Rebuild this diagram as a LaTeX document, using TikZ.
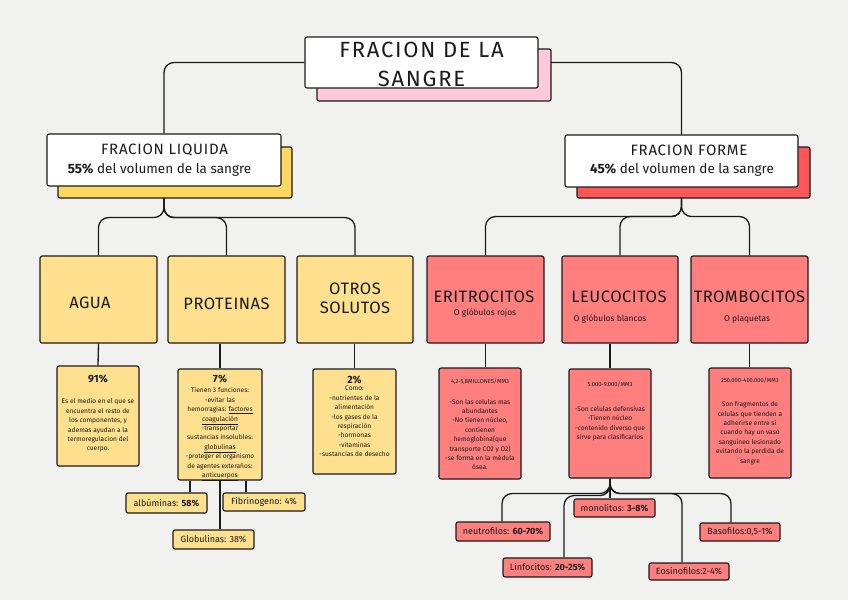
\documentclass[tikz,border=0pt]{standalone}
\usepackage{fontspec}
\setmainfont{Fira Sans}
\usetikzlibrary{calc}
\definecolor{bgc}{HTML}{F1F1EF}
\definecolor{ink}{HTML}{1A1A1A}
\definecolor{yl}{HTML}{FFE08E}
\definecolor{ysh}{HTML}{FFD75E}
\definecolor{rd}{HTML}{FF7E7E}
\definecolor{rsh}{HTML}{FF5656}
\definecolor{pk}{HTML}{FFC9DC}
\pgfdeclarelayer{bg}
\pgfsetlayers{bg,main}
\begin{document}
\begin{tikzpicture}[x=1pt,y=-1pt,
  box/.style={draw=ink, line width=1.1pt, rounded corners=2pt, inner sep=0pt},
  conn/.style={draw=ink, line width=1.3pt, rounded corners=10pt},
  big/.style={font=\fontsize{22}{29}\selectfont\addfontfeature{LetterSpace=8}, align=center, inner sep=0pt, text=ink},
  hd/.style={font=\fontsize{15}{17}\selectfont\addfontfeature{LetterSpace=5}, inner sep=0pt, text=ink},
  hs/.style={font=\fontsize{13.5}{15}\selectfont, inner sep=0pt, text=ink},
  ttl/.style={font=\fontsize{16.5}{19}\selectfont\addfontfeature{LetterSpace=3}, align=center, inner sep=0pt, text=ink},
  sub/.style={font=\fontsize{8.4}{9}\selectfont, inner sep=0pt, text=ink},
  dt/.style={font=\fontsize{6.6}{9.4}\selectfont, align=center, inner sep=0pt, text=ink},
  pc/.style={font=\fontsize{10.5}{12}\selectfont\bfseries, inner sep=0pt, text=ink},
  mm/.style={font=\fontsize{5.8}{6}\selectfont, inner sep=0pt, text=ink},
  sm/.style={box, font=\fontsize{9}{10}\selectfont, text=ink}]
\begin{pgfonlayer}{bg}
\fill[bgc] (0,0) rectangle (848,600);
\end{pgfonlayer}
\useasboundingbox (0,0) rectangle (848,600);

% title
\node[box, fill=pk, minimum width=234pt, minimum height=52pt] (tshad) at (434,75) {};
\node[box, fill=white, minimum width=233pt, minimum height=51pt] (title) at (421.5,62.5) {};
\node[big] (titlet) at (421.5,64.5) {FRACION DE LA\\SANGRE};

% headers
\node[box, fill=ysh, minimum width=234pt, minimum height=51pt] (lshad) at (175,172.5) {};
\node[box, fill=white, minimum width=234pt, minimum height=52pt] (lhead) at (164,160) {};
\node[hd] (lheadt) at (164.5,150) {FRACION LIQUIDA};
\node[hs] (lheads) at (159.5,169.5) {\textbf{55\%} del volumen de la sangre};

\node[box, fill=rsh, minimum width=233pt, minimum height=51pt] (rshad) at (693.5,172.5) {};
\node[box, fill=white, minimum width=233pt, minimum height=52pt] (rhead) at (681.5,161) {};
\node[hd] (rheadt) at (689,150) {FRACION FORME};
\node[hs] (rheads) at (682,169.5) {\textbf{45\%} del volumen de la sangre};

% level 2
\node[box, fill=yl, minimum width=117pt, minimum height=87pt] (agua) at (98.5,299.5) {};
\node[ttl] (aguat) at (90,303) {AGUA};
\node[box, fill=yl, minimum width=117pt, minimum height=87pt] (prot) at (226.5,299.5) {};
\node[ttl] (prott) at (226.5,304) {PROTEINAS};
\node[box, fill=yl, minimum width=116pt, minimum height=87pt] (otros) at (355,299.5) {};
\node[ttl] (otrost) at (355,298) {OTROS\\SOLUTOS};

\node[box, fill=rd, minimum width=117pt, minimum height=87pt] (erit) at (485.5,299.5) {};
\node[ttl] (eritt) at (484,297) {ERITROCITOS};
\node[sub] (erits) at (485,313) {O glóbulos rojos};
\node[box, fill=rd, minimum width=116pt, minimum height=87pt] (leuc) at (620,299.5) {};
\node[ttl] (leuct) at (619,297) {LEUCOCITOS};
\node[sub] (leucs) at (610,319) {O glóbulos blancos};
\node[box, fill=rd, minimum width=117pt, minimum height=87pt] (tromb) at (749.5,299.5) {};
\node[ttl] (trombt) at (749.5,297) {TROMBOCITOS};
\node[sub] (trombs) at (747,319) {O plaquetas};

% level 3
\node[box, fill=yl, minimum width=82pt, minimum height=100pt] (aguad) at (98,416) {};
\node[pc] (aguap) at (98,379) {91\%};
\node[dt, anchor=north] (aguax) at (98,398.5) {Es el medio en el que se\\encuentra el resto de\\los componentes, y\\ademas ayudan a la\\termoregulacion del\\cuerpo.};

\node[box, fill=yl, minimum width=84pt, minimum height=111pt] (protd) at (220,424.5) {};
\node[pc] (protp) at (220,378.5) {7\%};
\node[dt, anchor=north] (protx) at (220,387.5) {Tienen 3 funciones:\\-evitar las\\hemorragias: \underline{factores}\\\underline{coagulación}\\-transportar\\sustancias insolubles:\\\underline{globulinas}\\-proteger el organismo\\de agentes exteraños:\\\underline{anticuerpos}};

\node[box, fill=yl, minimum width=83pt, minimum height=105pt] (otrosd) at (354.5,421.5) {};
\node[pc] (otrosp) at (354.5,380) {2\%};
\node[dt, anchor=north] (otrosx) at (354.5,386) {Como:\\-nutrientes de la\\alimentación\\-los gases de la\\respiración\\-hormonas\\-vitaminas\\-sustancias de desecho};

\node[box, fill=rd, minimum width=82pt, minimum height=111pt] (eritd) at (480,423.5) {};
\node[mm] (eritp) at (480,382) {4,2-5,8MILLONES/MM3};
\node[dt, anchor=north] (eritx) at (480,399) {-Son las celulas mas\\abundantes\\-No tienen núcleo,\\contienen\\hemoglobina(que\\transporte CO2 y O2)\\-se forma en la médula\\ósea.};

\node[box, fill=rd, minimum width=82pt, minimum height=109pt] (leucd) at (610,423.5) {};
\node[mm] (leucp) at (610,384) {5.000-9.000/MM3};
\node[dt, anchor=north] (leucx) at (610,406) {-Son celulas defensivas\\-Tienen núcleo\\-contenido diverso que\\sirve para clasificarlos};

\node[box, fill=rd, minimum width=82pt, minimum height=110pt] (trombd) at (750,423) {};
\node[mm] (trombp) at (750,380.5) {250.000-400.000/MM3};
\node[dt, anchor=north] (trombx) at (750,401.5) {Son fragmentos de\\celulas que tienden a\\adherirse entre si\\cuando hay un vaso\\sanguíneo lesionado\\evitando la perdida de\\sangre};

% small boxes
\node[sm, fill=yl, minimum width=81pt, minimum height=20pt] (alb) at (166.5,503) {albúminas: \textbf{58\%}};
\node[sm, fill=yl, minimum width=82pt, minimum height=18pt] (fib) at (264,502) {Fibrinogeno: 4\%};
\node[sm, fill=yl, minimum width=81pt, minimum height=19pt] (glob) at (213.5,539.5) {Globulinas: 38\%};
\node[sm, fill=rd, minimum width=94pt, minimum height=19pt] (neut) at (503,531.5) {neutrofilos: \textbf{60-70\%}};
\node[sm, fill=rd, minimum width=89pt, minimum height=19pt] (linf) at (547.5,567.5) {Linfocitos: \textbf{20-25\%}};
\node[sm, fill=rd, minimum width=81pt, minimum height=18pt] (mono) at (614.5,508) {monolitos: \textbf{3-8\%}};
\node[sm, fill=rd, minimum width=80pt, minimum height=17pt] (eosi) at (689,571.5) {Eosinofilos:2-4\%};
\node[sm, fill=rd, minimum width=80pt, minimum height=18pt] (baso) at (740,532) {Basofilos:0,5-1\%};

% connectors
\begin{pgfonlayer}{bg}
\draw[conn] (title.west) -| (lhead.north);
\draw[conn] (title.east) -| (rhead.north);
\draw[conn] (lhead.south) -- ++(0,31) -| (agua.north);
\draw[conn] (lhead.south) -- ++(0,31) -| (prot.north);
\draw[conn] (lhead.south) -- ++(0,31) -| (otros.north);
\draw[conn] (rhead.south) -- ++(0,29) -| (erit.north);
\draw[conn] (rhead.south) -- ++(0,29) -| (leuc.north);
\draw[conn] (rhead.south) -- ++(0,29) -| (tromb.north);
\draw[conn] (agua.south) -- (aguad.north);
\draw[conn] (protd.north |- prot.south) -- (protd.north);
\draw[conn] (otros.south -| otrosd.north) -- (otrosd.north);
\draw[conn] (erit.south) -- (erit.south |- eritd.north);
\draw[conn] (leucd.north |- leuc.south) -- (leucd.north);
\draw[conn] (tromb.south) -- (tromb.south |- trombd.north);
\draw[conn] (190,0 |- protd.south) -- (190,0 |- alb.north);
\draw[conn] (protd.south) -- (protd.south |- glob.north);
\draw[conn] (246,0 |- protd.south) -- (246,0 |- fib.north);
\draw[conn] (leucd.south) -- ++(0,15) -| (502,0 |- neut.north);
\draw[conn] (leucd.south) -- ++(0,17) -| (564,0 |- linf.north);
\draw[conn] (leucd.south) -- (leucd.south |- mono.north);
\draw[conn] (leucd.south) -- ++(0,15) -| (682,0 |- eosi.north);
\draw[conn] (leucd.south) -- ++(0,15) -| (731,0 |- baso.north);
\end{pgfonlayer}
\end{tikzpicture}
\end{document}
